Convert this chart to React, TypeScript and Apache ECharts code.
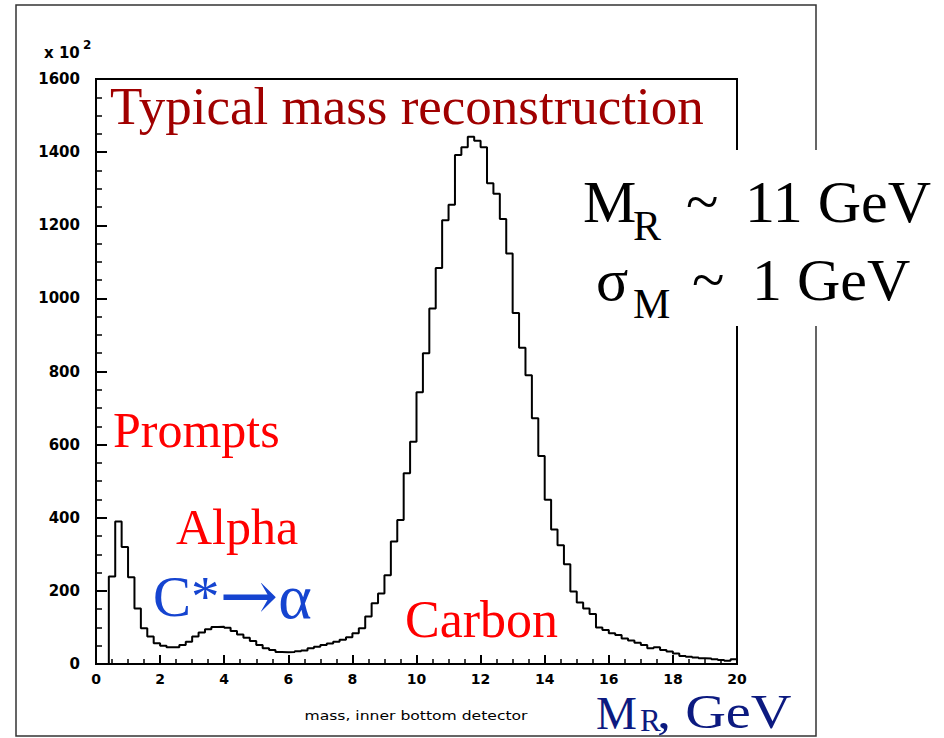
import React, { useEffect, useRef } from "react";
import * as echarts from "echarts";

// Histogram: mass, inner bottom detector (counts x 10^2), bins of 0.2 GeV from 0 to 20
const BIN_START = 0;
const BIN_WIDTH = 0.2;
const counts = [
  0, 0, 239, 390, 320, 237, 152, 98, 75, 57,
  50, 46, 46, 52, 61, 75, 86, 95, 101, 102,
  99, 90, 81, 72, 63, 52, 43, 38, 33, 32,
  33, 35, 37, 43, 47, 52, 56, 61, 66, 73,
  84, 98, 130, 166, 193, 243, 335, 394, 522, 608,
  743, 850, 972, 1083, 1214, 1256, 1392, 1413, 1442, 1431,
  1413, 1315, 1286, 1217, 1123, 960, 865, 790, 672, 569,
  449, 368, 325, 273, 198, 168, 152, 137, 100, 93,
  84, 79, 70, 64, 58, 52, 43, 46, 38, 34,
  29, 22, 20, 18, 16, 15, 13, 11, 9, 13,
];

const X_MIN = 0;
const X_MAX = 20;
const X_STEP = 2;
const Y_MIN = 0;
const Y_MAX = 1600;
const Y_STEP = 200;

const titleText = "Typical mass reconstruction";
const xAxisTitle = "mass, inner bottom detector";
const yScaleNote = "x 10";
const yScaleExp = "2";

const SERIF = "Liberation Serif";
const SANS = "DejaVu Sans";

function txt(
  text: string,
  x: number,
  y: number,
  size: number,
  fill: string,
  family: string = SERIF,
  extra: any = {}
) {
  return {
    type: "text",
    x,
    y,
    z: 60,
    silent: true,
    ...extra,
    style: {
      text,
      fill,
      fontSize: size,
      fontFamily: family,
      fontWeight: extra.fontWeight || "normal",
      textAlign: extra.align || "left",
      textVerticalAlign: "middle",
      align: extra.align || "left",
      verticalAlign: "middle",
    },
  };
}

export default function App() {
  const ref = useRef<HTMLDivElement>(null);

  useEffect(() => {
    if (!ref.current) return;
    const chart = echarts.init(ref.current, null, { renderer: "svg" });

    const data: number[][] = counts.map((c, i) => [BIN_START + i * BIN_WIDTH, c]);
    data.push([BIN_START + counts.length * BIN_WIDTH, counts[counts.length - 1]]);

    const red = "#ff0000";
    const darkRed = "#a00000";
    const blue = "#1544d0";
    const navy = "#0c1a80";

    const option: any = {
      animation: false,
      backgroundColor: "#ffffff",
      grid: {
        left: 96,
        top: 79,
        width: 641,
        height: 585,
        show: true,
        borderColor: "#000",
        borderWidth: 2,
        backgroundColor: "transparent",
        containLabel: false,
      },
      xAxis: {
        type: "value",
        min: X_MIN,
        max: X_MAX,
        interval: X_STEP,
        axisLine: { show: true, lineStyle: { color: "#000", width: 2 } },
        axisTick: { show: true, inside: true, length: 9, lineStyle: { color: "#000", width: 2 } },
        minorTick: { show: true, splitNumber: 4, length: 5, lineStyle: { color: "#000", width: 1.5 } },
        splitLine: { show: false },
        minorSplitLine: { show: false },
        axisLabel: {
          color: "#000",
          fontFamily: SANS,
          fontWeight: "bold",
          fontSize: 14,
          margin: 8,
          formatter: (v: number) => String(v),
        },
      },
      yAxis: {
        type: "value",
        min: Y_MIN,
        max: Y_MAX,
        interval: Y_STEP,
        axisLine: { show: true, lineStyle: { color: "#000", width: 2 } },
        axisTick: { show: true, inside: true, length: 11, lineStyle: { color: "#000", width: 2 } },
        minorTick: { show: true, splitNumber: 4, length: 6, lineStyle: { color: "#000", width: 1.5 } },
        splitLine: { show: false },
        minorSplitLine: { show: false },
        axisLabel: {
          color: "#000",
          fontFamily: SANS,
          fontWeight: "bold",
          fontSize: 15,
          margin: 16,
          formatter: (v: number) => String(v),
        },
      },
      series: [
        {
          type: "line",
          step: "end",
          data,
          symbol: "none",
          lineStyle: { color: "#000", width: 2 },
          z: 5,
        },
      ],
      graphic: [
        {
          type: "rect",
          z: 0,
          silent: true,
          shape: { x: 16, y: 5, width: 800, height: 731 },
          style: { fill: "none", stroke: "#333", lineWidth: 1.5 },
        },
        {
          type: "rect",
          z: 50,
          silent: true,
          shape: { x: 572, y: 150, width: 372, height: 176 },
          style: { fill: "#ffffff" },
        },
        txt(yScaleNote, 44, 53, 15, "#000", SANS, { fontWeight: "bold" }),
        txt(yScaleExp, 83, 45, 12, "#000", SANS, { fontWeight: "bold" }),
        txt(titleText, 110, 106, 53, darkRed),
        txt("Prompts", 113, 430, 50, red),
        txt("Alpha", 176, 527, 50, red),
        {
          type: "text",
          x: 153,
          y: 596,
          z: 60,
          silent: true,
          style: {
            text: "{a|C*}{b|→}{c|α}",
            fill: blue,
            fontSize: 56,
            fontFamily: SERIF,
            textVerticalAlign: "middle",
            verticalAlign: "middle",
            rich: {
              a: { fontSize: 57, fontFamily: SERIF, fill: blue },
              b: { fontSize: 70, fontFamily: "DejaVu Serif", fill: blue },
              c: { fontSize: 64, fontFamily: SERIF, fill: blue },
            },
          },
        },
        txt("Carbon", 405, 619, 52, red),
        txt(xAxisTitle, 416, 715, 13, "#000", SANS, { align: "center", scaleX: 1.2 }),
        txt("M", 596, 713, 46, navy),
        txt("R", 640, 720, 31, navy),
        txt(", GeV", 657, 711, 49, navy, SERIF, { scaleX: 1.15 }),
        txt("M", 583, 202, 60, "#000"),
        txt("R", 633, 226, 42, "#000"),
        txt("~", 686, 202, 60, "#000"),
        txt("11 GeV", 745, 202, 60, "#000"),
        txt("σ", 596, 280, 60, "#000"),
        txt("M", 633, 304, 42, "#000"),
        txt("~", 692, 280, 60, "#000"),
        txt("1 GeV", 752, 280, 60, "#000"),
      ],
    };

    chart.setOption(option);
    return () => chart.dispose();
  }, []);

  return (
    <div
      ref={ref}
      style={{ position: "fixed", left: 0, top: 0, width: 944, height: 738, background: "#fff" }}
    />
  );
}
